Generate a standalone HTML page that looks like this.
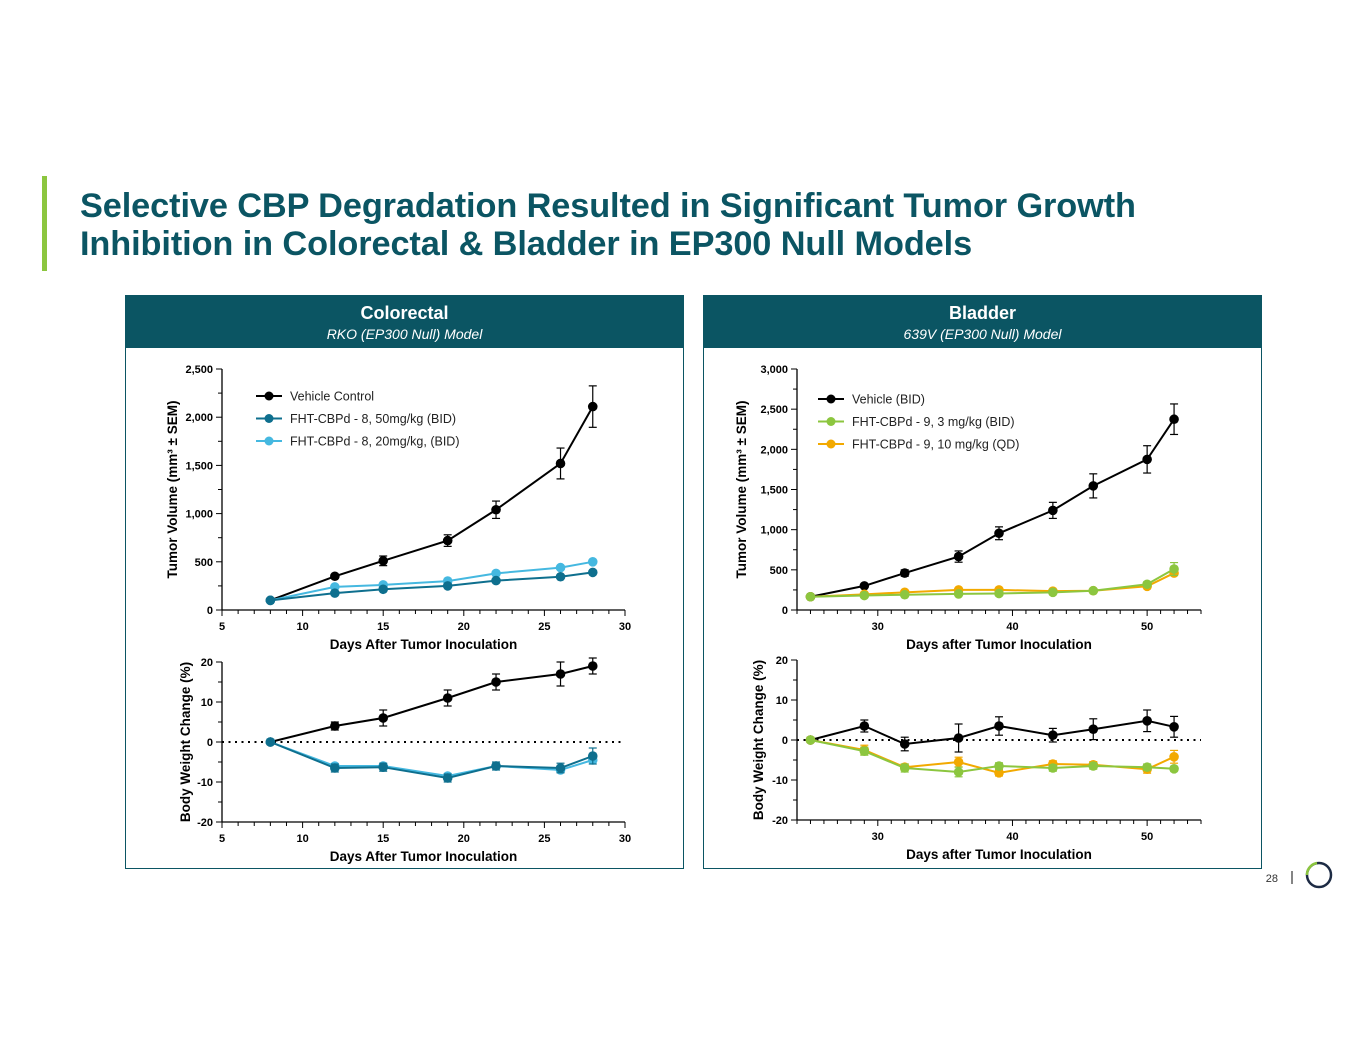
<!DOCTYPE html>
<html><head><meta charset="utf-8">
<style>
body{margin:0;width:1365px;height:1055px;background:#fff;position:relative;overflow:hidden;font-family:"Liberation Sans",Arial,sans-serif}
.bar{position:absolute;left:42px;top:176px;width:5px;height:95px;background:#8cc63f}
.title{position:absolute;left:80px;top:187px;font-size:34.3px;font-weight:bold;color:#0b5563;line-height:38px;letter-spacing:-0.1px;white-space:nowrap}
.panel{position:absolute;top:295px;width:559px;height:574px;border:1.5px solid #0b5563;box-sizing:border-box}
.hdr{background:#0b5563;color:#fff;text-align:center;height:52px}
.hdr b{display:block;font-size:18px;padding-top:7px}
.hdr i{display:block;font-size:14px;margin-top:2px}
svg{position:absolute;left:0;top:0}
</style></head><body>
<div class="bar"></div>
<div class="title">Selective CBP Degradation Resulted in Significant Tumor Growth<br>Inhibition in Colorectal &amp; Bladder in EP300 Null Models</div>
<div class="panel" style="left:125px"><div class="hdr"><b>Colorectal</b><i>RKO (EP300 Null) Model</i></div></div>
<div class="panel" style="left:703px"><div class="hdr"><b>Bladder</b><i>639V (EP300 Null) Model</i></div></div>
<svg id="s" width="1365" height="1055">
<text x="1278" y="882" font-size="11" fill="#333" text-anchor="end">28</text>
<line x1="1292" y1="871" x2="1292" y2="884" stroke="#333" stroke-width="1.2"/>
<circle cx="1319" cy="875" r="12" fill="none" stroke="#1d2b44" stroke-width="2.5"/>
<path d="M1307 875 A12 12 0 0 1 1317 863" fill="none" stroke="#8cc63f" stroke-width="2.6"/>
</svg>
<script>
// Colorectal data
const lDays=[8,12,15,19,22,26,28];
const lVehVol=[100,350,510,720,1040,1520,2110];
const lVehVolErr=[0,20,50,60,90,160,215];
const l50Vol=[100,175,215,250,305,345,390];
const l20Vol=[100,240,260,300,380,440,500];
const lVehBW=[0,4,6,11,15,17,19];
const lVehBWErr=[0,1,2,2,2,3,2];
const l50BW=[0,-6.5,-6.3,-9,-6,-6.5,-3.5];
const l50BWErr=[0,1,1,1,1,1.2,2];
const l20BW=[0,-6,-6,-8.5,-6,-7,-4.5];
// Bladder data
const rDays=[25,29,32,36,39,43,46,50,52];
const rVehVol=[165,300,460,665,955,1240,1545,1875,2375];
const rVehVolErr=[0,20,40,70,80,100,150,170,190];
const rGrVol=[165,180,190,200,205,220,240,320,510];
const rGrVolErr=[0,10,10,10,10,15,15,30,80];
const rOrVol=[165,195,220,250,250,235,240,295,460];
const rVehBW=[0,3.5,-1,0.5,3.5,1.2,2.7,4.8,3.3];
const rVehBWErr=[0,1.5,1.7,3.5,2.3,1.7,2.6,2.7,2.6];
const rGrBW=[0,-2.8,-7,-8,-6.5,-7,-6.5,-6.8,-7.2];
const rGrBWErr=[0,1,1,1.2,0.8,0.8,0.8,0.8,0.6];
const rOrBW=[0,-2.5,-6.8,-5.5,-8.2,-6,-6.2,-7.3,-4.2];
const rOrBWErr=[0,1.2,0.8,1.2,0.8,0.8,0.8,1,1.6];
const lVolTicks=[0,500,1000,1500,2000,2500];
const rVolTicks=[0,500,1000,1500,2000,2500,3000];
const bwTicks=[-20,-10,0,10,20];
const lXTicks=[5,10,15,20,25,30];
const rXTicks=[30,40,50];

const S=document.getElementById('s'),NS='http://www.w3.org/2000/svg';
function mk(t,a,txt){const e=document.createElementNS(NS,t);for(const k in a)e.setAttribute(k,a[k]);if(txt!==undefined)e.textContent=txt;S.appendChild(e);return e;}
function fmt(v){return v.toLocaleString('en-US');}
function chart(o){
  const X=d=>o.x0+(d-o.d0)*(o.x1-o.x0)/(o.d1-o.d0);
  const Y=v=>o.y0+(v-o.v0)*(o.y1-o.y0)/(o.v1-o.v0);
  mk('line',{x1:o.x0,y1:o.y0,x2:o.x1,y2:o.y0,stroke:'#000','stroke-width':1.3});
  mk('line',{x1:o.x0,y1:o.y0,x2:o.x0,y2:o.y1,stroke:'#000','stroke-width':1.3});
  for(let d=Math.ceil(o.d0);d<=o.d1;d++){const big=o.xt.includes(d);
    mk('line',{x1:X(d),y1:o.y0,x2:X(d),y2:o.y0+(big?6:4),stroke:'#000','stroke-width':1});}
  o.xt.forEach(t=>{const e=mk('text',{x:X(t),y:o.y0+20,'font-size':11,'font-weight':'bold','text-anchor':'middle'},t);
    });
  const step=(o.yt[1]-o.yt[0])/2;
  for(let v=o.v0;v<=o.v1+1e-9;v+=step){const big=o.yt.includes(v);
    mk('line',{x1:o.x0,y1:Y(v),x2:o.x0-(big?6:4),y2:Y(v),stroke:'#000','stroke-width':1});}
  o.yt.forEach(t=>{const e=mk('text',{x:o.x0-9,y:Y(t)+4,'font-size':11,'font-weight':'bold','text-anchor':'end'},o.noComma?t:fmt(t));
    });
  const xt=mk('text',{x:(o.x0+o.x1)/2,y:o.y0+39,'font-size':13.5,'font-weight':'bold','text-anchor':'middle'},o.xlab);
  
  const cy=(o.y0+o.y1)/2;
  const yt=mk('text',{x:o.ylx,y:cy,'font-size':13.5,'font-weight':'bold','text-anchor':'middle',transform:`rotate(-90 ${o.ylx} ${cy})`},o.ylab);
  
  if(o.zero){mk('line',{x1:o.x0,y1:Y(0),x2:o.x1,y2:Y(0),stroke:'#000','stroke-width':2,'stroke-dasharray':'2 4.5'});}
  o.series.forEach(s=>{
    const pts=o.days.map((d,i)=>X(d)+','+Y(s.v[i])).join(' ');
    const pl=mk('polyline',{points:pts,fill:'none',stroke:s.c,'stroke-width':2});
    
    o.days.forEach((d,i)=>{
      if(s.e&&s.e[i]>0){const x=X(d),a=Y(s.v[i]+s.e[i]),b=Y(s.v[i]-s.e[i]);
        mk('line',{x1:x,y1:a,x2:x,y2:b,stroke:s.c,'stroke-width':1.2});
        mk('line',{x1:x-4,y1:a,x2:x+4,y2:a,stroke:s.c,'stroke-width':1.2});
        mk('line',{x1:x-4,y1:b,x2:x+4,y2:b,stroke:s.c,'stroke-width':1.2});}
      const c=mk('circle',{cx:X(d),cy:Y(s.v[i]),r:4.8,fill:s.c});
      
    });
  });
  if(o.legend){o.legend.forEach((l,i)=>{const y=o.legY+i*22.5;
    mk('line',{x1:o.legX,y1:y,x2:o.legX+26,y2:y,stroke:l.c,'stroke-width':2});
    mk('circle',{cx:o.legX+13,cy:y,r:4.5,fill:l.c});
    const t=mk('text',{x:o.legX+34,y:y+4.5,'font-size':12.5,fill:'#222'},l.t);
    });}
}
const K='#000',B1='#0e6f8e',B2='#45b8e0',G='#8cc63f',O='#f2a900';
chart({x0:222,x1:625,d0:5,d1:30,y0:610,y1:369,v0:0,v1:2500,xt:lXTicks,yt:lVolTicks,days:lDays,
  xlab:'Days After Tumor Inoculation',ylab:'Tumor Volume (mm³ ± SEM)',ylx:177,
  series:[{n:'vehicle',v:lVehVol,e:lVehVolErr,c:K},{n:'cbpd8-20',v:l20Vol,c:B2},{n:'cbpd8-50',v:l50Vol,c:B1}],
  legend:[{t:'Vehicle Control',c:K},{t:'FHT-CBPd - 8, 50mg/kg (BID)',c:B1},{t:'FHT-CBPd - 8, 20mg/kg, (BID)',c:B2}],legX:256,legY:396});
chart({x0:222,x1:625,d0:5,d1:30,y0:822,y1:662,v0:-20,v1:20,xt:lXTicks,yt:bwTicks,days:lDays,noComma:1,zero:1,
  xlab:'Days After Tumor Inoculation',ylab:'Body Weight Change (%)',ylx:190,
  series:[{n:'vehicle-bw',v:lVehBW,e:lVehBWErr,c:K},{n:'cbpd8-20-bw',v:l20BW,c:B2},{n:'cbpd8-50-bw',v:l50BW,e:l50BWErr,c:B1}]});
chart({x0:797,x1:1201,d0:24,d1:54,y0:610,y1:369,v0:0,v1:3000,xt:rXTicks,yt:rVolTicks,days:rDays,
  xlab:'Days after Tumor Inoculation',ylab:'Tumor Volume (mm³ ± SEM)',ylx:746,
  series:[{n:'vehicle',v:rVehVol,e:rVehVolErr,c:K},{n:'cbpd9-10',v:rOrVol,c:O},{n:'cbpd9-3',v:rGrVol,e:rGrVolErr,c:G}],
  legend:[{t:'Vehicle (BID)',c:K},{t:'FHT-CBPd - 9, 3 mg/kg (BID)',c:G},{t:'FHT-CBPd - 9, 10 mg/kg (QD)',c:O}],legX:818,legY:399});
chart({x0:797,x1:1201,d0:24,d1:54,y0:820,y1:660,v0:-20,v1:20,xt:rXTicks,yt:bwTicks,days:rDays,noComma:1,zero:1,
  xlab:'Days after Tumor Inoculation',ylab:'Body Weight Change  (%)',ylx:763,
  series:[{n:'vehicle-bw',v:rVehBW,e:rVehBWErr,c:K},{n:'cbpd9-10-bw',v:rOrBW,e:rOrBWErr,c:O},{n:'cbpd9-3-bw',v:rGrBW,e:rGrBWErr,c:G}]});
</script>
</body></html>
